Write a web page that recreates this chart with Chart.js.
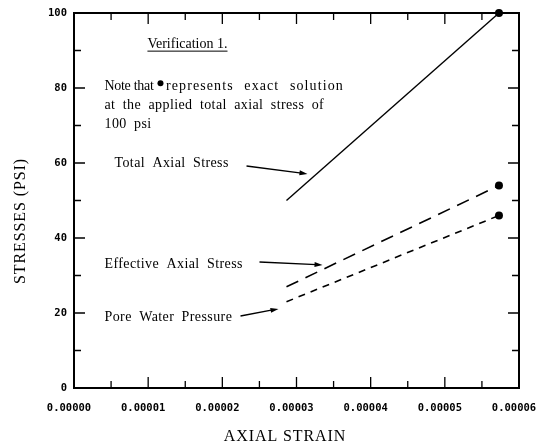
<!DOCTYPE html>
<html>
<head>
<meta charset="utf-8">
<script src="https://cdn.jsdelivr.net/npm/chart.js@4.4.1/dist/chart.umd.min.js"></script>
<style>
  html, body { margin: 0; padding: 0; background: #fff; }
  #wrap { width: 540px; height: 447px; }
</style>
</head>
<body>
<div id="wrap"><canvas id="c" width="540" height="447"></canvas></div>
<script>
// Axial strain at the two computed states
const strain = [0.00002865, 0.0000573];
// Stresses (psi) at those states
const totalStress = [50, 100];
const effectiveStress = [27, 54];
const poreWater = [23, 46];
// Exact-solution markers only on the final state
const exactMarker = [0, 4];

const xTickStep = 0.00001;
const yTickStep = 20;

const serif = '"Liberation Serif", "Times New Roman", serif';
const mono = '"DejaVu Sans Mono", monospace';

function pts(ys) { return strain.map((x, i) => ({ x: x, y: ys[i] })); }

// Text notes and leader arrows, anchored in data units
const notes = [
  { text: 'Verification 1.', x: 0.0000099, y: 91.7, underline: true, ls: 0, ws: 0 },
  { text: 'Note that', x: 0.00000411, y: 80.5, ls: -0.3, ws: 0 },
  { text: 'represents exact solution', x: 0.0000124, y: 80.5, ls: 1.1, ws: 6 },
  { text: 'at the applied total axial stress of', x: 0.00000411, y: 75.5, ls: 0.4, ws: 3.5 },
  { text: '100 psi', x: 0.00000411, y: 70.4, ls: 0.4, ws: 3.5 },
  { text: 'Total Axial Stress', x: 0.00000546, y: 60.0, ls: 0.4, ws: 3.5 },
  { text: 'Effective Axial Stress', x: 0.00000411, y: 33.1, ls: 0.4, ws: 3.5 },
  { text: 'Pore Water Pressure', x: 0.00000411, y: 18.9, ls: 0.4, ws: 3.5 }
];
const arrows = [
  { x1: 0.00002326, y1: 59.2, x2: 0.00003148, y2: 57.1 },
  { x1: 0.00002501, y1: 33.6, x2: 0.00003351, y2: 32.8 },
  { x1: 0.00002245, y1: 19.2, x2: 0.00002757, y2: 21.1 }
];
const noteDot = { x: 0.00001166, y: 81.3 };

const decor = {
  id: 'decor',
  afterDraw(chart) {
    const ctx = chart.ctx;
    const a = chart.chartArea;
    const xs = chart.scales.x, ys = chart.scales.y;
    ctx.save();
    // frame
    ctx.strokeStyle = '#000';
    ctx.lineWidth = 2;
    ctx.strokeRect(a.left, a.top, a.right - a.left, a.bottom - a.top);
    // inward ticks, long on labelled values, short in between
    ctx.lineWidth = 1.3;
    for (let k = 1; k < 12; k++) {
      const v = k * xTickStep / 2;
      const px = xs.getPixelForValue(v);
      const len = k % 2 === 0 ? 11 : 7;
      ctx.beginPath();
      ctx.moveTo(px, a.bottom); ctx.lineTo(px, a.bottom - len);
      ctx.moveTo(px, a.top); ctx.lineTo(px, a.top + len);
      ctx.stroke();
    }
    for (let k = 1; k < 10; k++) {
      const v = k * yTickStep / 2;
      const py = ys.getPixelForValue(v);
      const len = k % 2 === 0 ? 11 : 7;
      ctx.beginPath();
      ctx.moveTo(a.left, py); ctx.lineTo(a.left + len, py);
      ctx.moveTo(a.right, py); ctx.lineTo(a.right - len, py);
      ctx.stroke();
    }
    // axis titles
    ctx.fillStyle = '#000';
    ctx.font = '16px ' + serif;
    ctx.letterSpacing = '0.9px';
    ctx.textAlign = 'center';
    ctx.textBaseline = 'middle';
    ctx.fillText('AXIAL STRAIN', 285, 437);
    ctx.save();
    ctx.translate(21, 221);
    ctx.rotate(-Math.PI / 2);
    ctx.fillText('STRESSES (PSI)', 0, 0);
    ctx.restore();
    // notes
    ctx.font = '14px ' + serif;
    ctx.textAlign = 'left';
    notes.forEach(n => {
      ctx.letterSpacing = n.ls + 'px';
      ctx.wordSpacing = n.ws + 'px';
      const px = xs.getPixelForValue(n.x), py = ys.getPixelForValue(n.y);
      ctx.fillText(n.text, px, py);
      if (n.underline) {
        const w = ctx.measureText(n.text).width;
        ctx.lineWidth = 1;
        ctx.beginPath();
        ctx.moveTo(px, py + 7); ctx.lineTo(px + w, py + 7);
        ctx.stroke();
      }
    });
    ctx.beginPath();
    ctx.arc(xs.getPixelForValue(noteDot.x), ys.getPixelForValue(noteDot.y), 3, 0, Math.PI * 2);
    ctx.fill();
    // leader arrows
    arrows.forEach(r => {
      const x1 = xs.getPixelForValue(r.x1), y1 = ys.getPixelForValue(r.y1);
      const x2 = xs.getPixelForValue(r.x2), y2 = ys.getPixelForValue(r.y2);
      const ang = Math.atan2(y2 - y1, x2 - x1);
      ctx.lineWidth = 1.3;
      ctx.beginPath();
      ctx.moveTo(x1, y1); ctx.lineTo(x2 - 6 * Math.cos(ang), y2 - 6 * Math.sin(ang));
      ctx.stroke();
      ctx.beginPath();
      ctx.moveTo(x2, y2);
      ctx.lineTo(x2 - 8 * Math.cos(ang) + 2.5 * Math.sin(ang), y2 - 8 * Math.sin(ang) - 2.5 * Math.cos(ang));
      ctx.lineTo(x2 - 8 * Math.cos(ang) - 2.5 * Math.sin(ang), y2 - 8 * Math.sin(ang) + 2.5 * Math.cos(ang));
      ctx.closePath();
      ctx.fill();
    });
    ctx.restore();
  }
};

new Chart(document.getElementById('c'), {
  type: 'scatter',
  data: {
    datasets: [
      { label: 'Total Axial Stress', data: pts(totalStress), showLine: true,
        borderColor: '#000', backgroundColor: '#000', borderWidth: 1.4,
        pointRadius: exactMarker, pointBorderWidth: 0, clip: false },
      { label: 'Effective Axial Stress', data: pts(effectiveStress), showLine: true,
        borderColor: '#000', backgroundColor: '#000', borderWidth: 1.6, borderDash: [13, 8],
        pointRadius: exactMarker, pointBorderWidth: 0, clip: false },
      { label: 'Pore Water Pressure', data: pts(poreWater), showLine: true,
        borderColor: '#000', backgroundColor: '#000', borderWidth: 1.6, borderDash: [7, 6],
        pointRadius: exactMarker, pointBorderWidth: 0, clip: false }
    ]
  },
  options: {
    responsive: false,
    animation: false,
    events: [],
    layout: { padding: { left: 0, right: 21, top: 13, bottom: 0 } },
    plugins: { legend: { display: false }, tooltip: { enabled: false } },
    scales: {
      x: {
        type: 'linear', min: 0, max: 0.00006,
        grid: { display: false, drawTicks: false },
        border: { display: false },
        title: { display: false },
        afterFit: s => { s.height = 59; s.paddingLeft = 0; s.paddingRight = 0; },
        ticks: {
          stepSize: xTickStep, padding: 14, labelOffset: -5, color: '#000',
          font: { family: mono, size: 10.5, weight: 'bold' },
          maxRotation: 0, autoSkip: false,
          callback: v => Number(v).toFixed(5)
        }
      },
      y: {
        min: 0, max: 100,
        grid: { display: false, drawTicks: false },
        border: { display: false },
        title: { display: false },
        afterFit: s => { s.width = 74; s.paddingTop = 0; s.paddingBottom = 0; },
        ticks: {
          stepSize: yTickStep, padding: 7, color: '#000',
          font: { family: mono, size: 10.5, weight: 'bold' },
          callback: v => String(v)
        }
      }
    }
  },
  plugins: [decor]
});
</script>
</body>
</html>
